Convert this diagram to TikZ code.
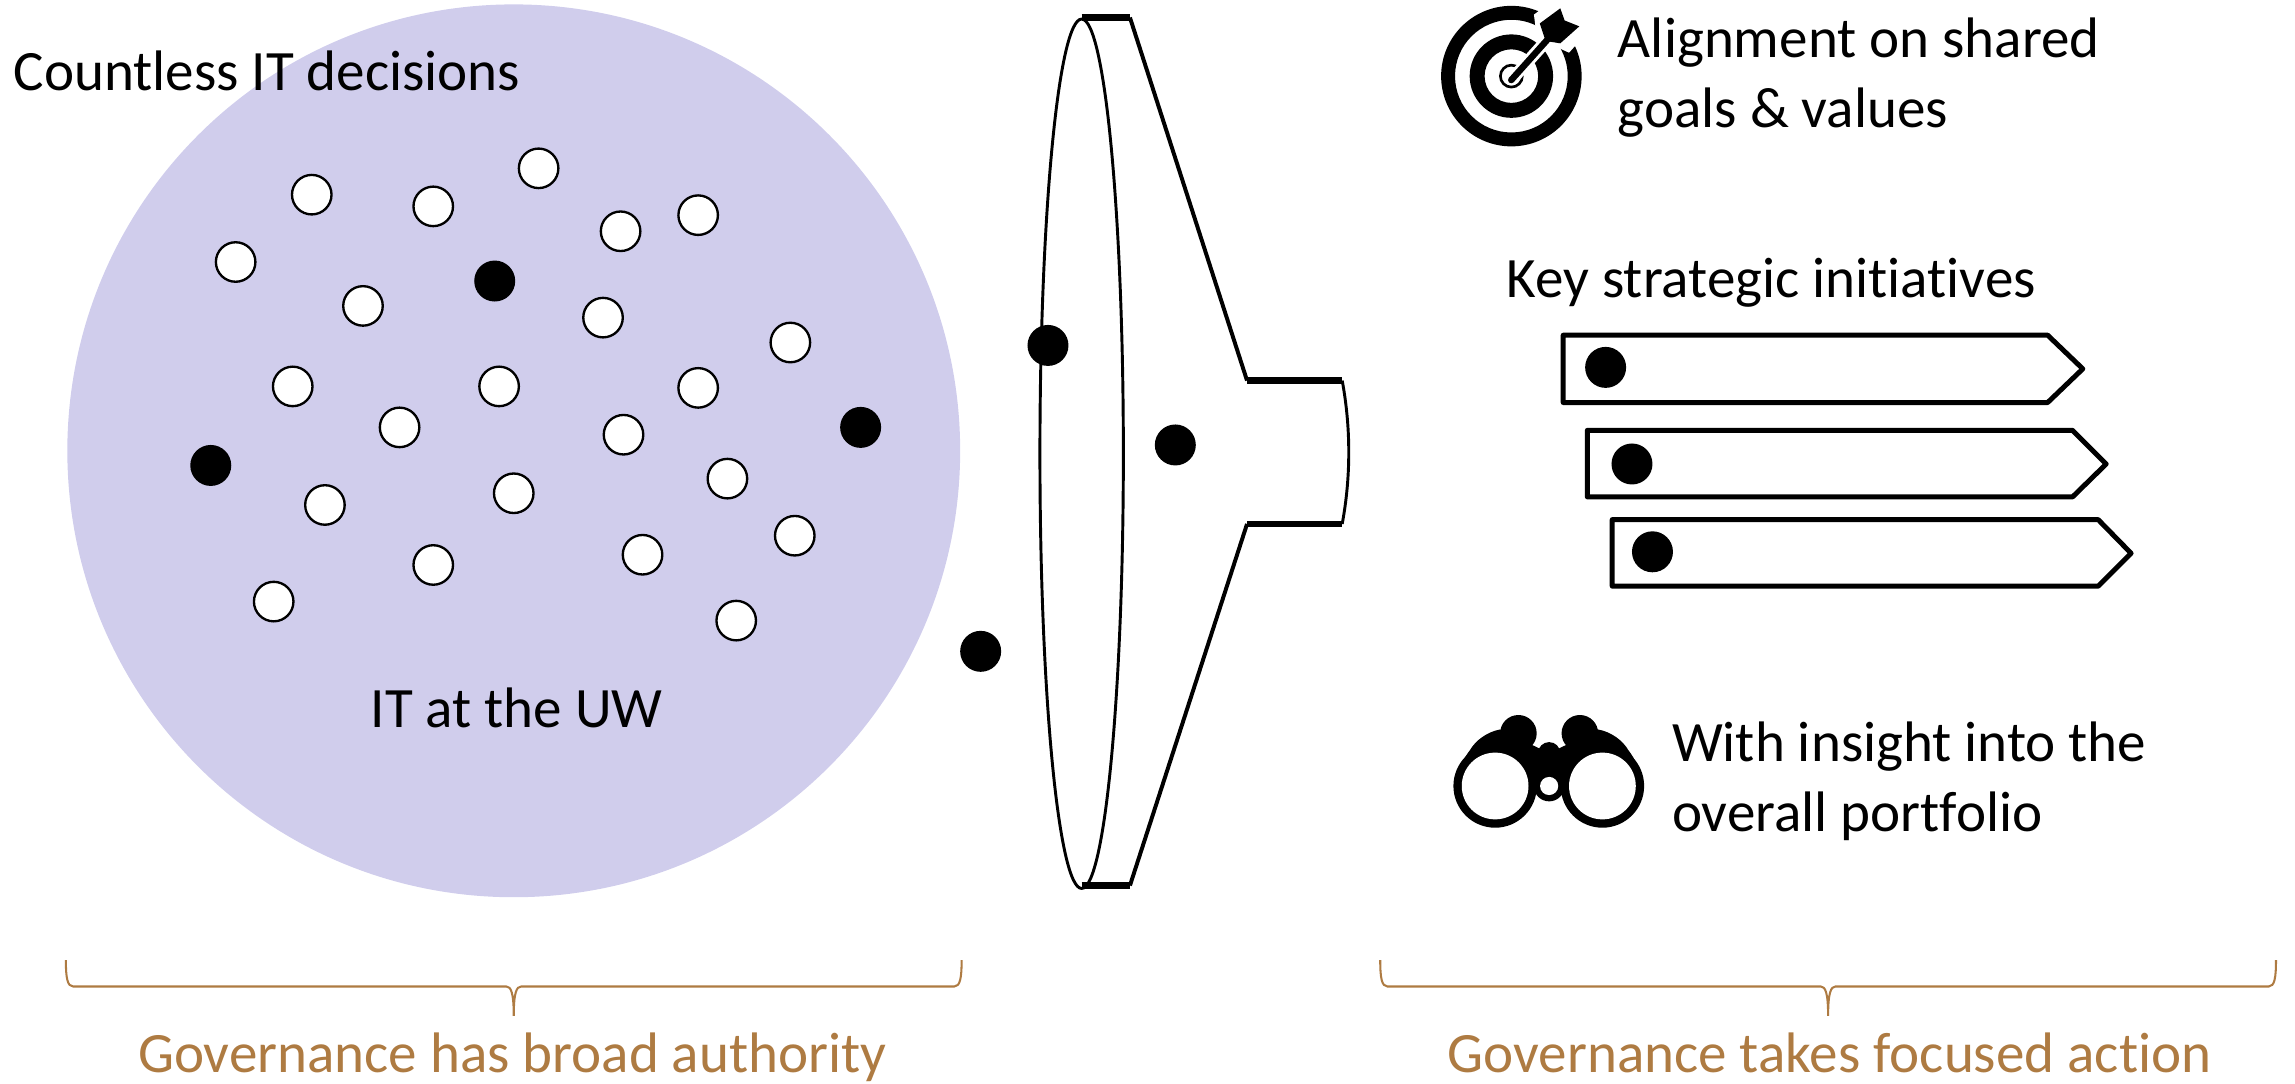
\documentclass[tikz,border=0pt]{standalone}
\usepackage{fontspec}
\setmainfont{Carlito}[Ligatures=NoCommon]

\definecolor{uwlilac}{HTML}{D0CDEC}
\definecolor{bracetan}{HTML}{AE7B42}

\tikzset{
  whitedot/.style={circle, draw=black, fill=white, line width=0.8pt, inner sep=0pt, minimum size=13.5pt},
  blackdot/.style={circle, fill=black, inner sep=0pt, minimum size=14pt},
  label/.style={inner sep=0pt, anchor=base west, align=left, font=\fontsize{19.5}{24}\selectfont},
  caption/.style={inner sep=0pt, anchor=base, text=bracetan, font=\fontsize{19.5}{24}\selectfont},
  brace/.style={draw=bracetan, line width=0.7pt},
  funnelline/.style={line width=1.35pt, line join=round},
  funnelrim/.style={line width=2.2pt},
  tagline/.style={line width=1.7pt, line join=round}
}

\begin{document}
\begin{tikzpicture}[x=0.5pt, y=-0.5pt]

  \useasboundingbox (0,0) rectangle (1568,740);

  \node[circle, fill=uwlilac, inner sep=0pt, minimum size=305pt] (uw) at (351,308) {}; %
  \node[label] (countless) at (9,62) {Countless IT decisions}; %
  \node[label] (itatuw) at (253,497) {IT at the UW}; %

  \foreach \x/\y [count=\i] in {213/133,296/141,368/115,424/158,477/147,161/179,248/209,412/217,
    540/234,200/264,341/264,477/265,273/292,426/297,497/327,351/337,222/345,543/366,439/379,
    296/386,187/411,503/424}
    \node[whitedot] (wd\i) at (\x,\y) {};

  % funnel
  \draw[line width=1pt] (739,310) ellipse [x radius=28.5, y radius=297];
  \draw[funnelline] (772,12) -- (852,260);
  \draw[funnelline] (772,605) -- (852,358);
  \draw[line width=1pt] (917,260) .. controls (923,292) and (923,326) .. (917,358);
  \draw[funnelrim] (739,12) -- (772,12);
  \draw[funnelrim] (852,260) -- (917,260);
  \draw[funnelrim] (852,358) -- (917,358);
  \draw[funnelrim] (739,605) -- (772,605);

  \foreach \x/\y [count=\i] in {338/192,144/318,588/292,670/445,716/236,803/304}
    \node[blackdot] (bd\i) at (\x,\y) {};

  % target
  \fill[even odd rule] (1032.6,52) circle (48) (1032.6,52) circle (38.5);
  \fill[even odd rule] (1032.6,52) circle (28.5) (1032.6,52) circle (18.3);
  \draw[line width=0.9pt] (1032.6,52) circle (7.5);
  \fill[white] (1048,10) -- (1064,-2) -- (1088,18) -- (1072,36) -- (1050,26) -- cycle;
  \draw[white, line width=4.2pt] (1032.5,54.7) -- (1060,24);
  \draw[line width=2.2pt, line cap=round] (1032.5,54.7) -- (1060,24);
  \fill (1052,16) -- (1066,5.7) -- (1069,14) -- (1079,18) -- (1066,29.6) -- (1056,28) -- cycle;

  \node[label] (align) at (1105,87) {Alignment on shared\\goals \& values}; %
  \node[label] (key) at (1029,203) {Key strategic initiatives}; %

  % tags
  \foreach \xa/\xb/\xc/\ya/\yb/\ym in {1068/1399/1423/229/275/252,1084.5/1416/1439/294/339.5/317,1101.5/1433.5/1456/355/400.5/378}
    \draw[tagline] (\xa,\ya) -- (\xb,\ya) -- (\xc,\ym) -- (\xb,\yb) -- (\xa,\yb) -- cycle;
  \foreach \x/\y [count=\i] in {1097/251,1115/317,1129/377}
    \node[blackdot] (td\i) at (\x,\y) {};

  % binoculars
  \fill (994,537) .. controls (996,526) and (1000,518) .. (1004.3,512.5) .. controls (1008,506) and (1016,500) .. (1024.8,498.4)
    -- (1051,511) -- (1058.4,515) -- (1065.8,511) -- (1091.9,498.4)
    .. controls (1100.8,500) and (1108.8,506) .. (1112.5,512.5) .. controls (1116.8,518) and (1120.8,526) .. (1122.8,537) -- cycle;
  \fill (1037.4,501) circle (12.5) (1079.4,501) circle (12.5) (1058.4,514.6) circle (7.6);
  \fill (1021.5,537) circle (28.5) (1094.8,537) circle (28.5) (1058.4,537) circle (10.5);
  \fill[white] (1021.5,537) circle (22.8) (1094.8,537) circle (22.8) (1058.4,537) circle (6.2);

  \node[label] (insight) at (1142,568) {With insight into the\\overall portfolio}; %

  % braces
  \foreach \bx in {351,1249}
    \draw[brace, shift={(\bx,0)}] (-306,656) .. controls (-306,668) and (-305,674) .. (-301,674) -- (-5,674)
      .. controls (-2,674) and (0,678) .. (0,694) .. controls (0,678) and (2,674) .. (5,674) -- (301,674)
      .. controls (305,674) and (306,668) .. (306,656);

  \node[caption] (broad) at (350,733) {Governance has broad authority}; %
  \node[caption] (focused) at (1250,733) {Governance takes focused action}; %

\end{tikzpicture}
\end{document}
